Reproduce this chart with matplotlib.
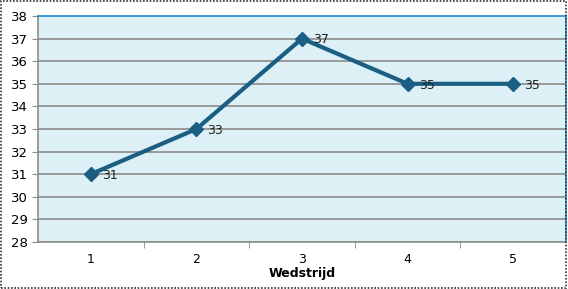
import matplotlib
matplotlib.use('Agg')
import matplotlib.pyplot as plt
from matplotlib.patches import Rectangle

# Daten
wedstrijden = [1, 2, 3, 4, 5]
waarden = [31, 33, 37, 35, 35]
y_ticks = list(range(28, 39))

lijn_kleur = '#1b5e84'

fig = plt.figure(figsize=(5.68, 2.89), dpi=100)
ax = fig.add_axes([38 / 568, 1 - 242 / 289, 528 / 568, 226 / 289])
ax.set_facecolor('#ddf0f6')

# Rasterlijnen
for y in y_ticks[:-1]:
    ax.axhline(y, color='#929292', linewidth=1.3, zorder=1)

ax.plot(wedstrijden, waarden, color=lijn_kleur, linewidth=3, marker='D',
        markersize=7, zorder=3)

# Datalabels
for x, y in zip(wedstrijden, waarden):
    ax.annotate(str(y), (x, y), xytext=(8, -1), textcoords='offset points',
                ha='left', va='center', fontsize=9, color='#222222')

ax.set_xlim(0.5, 5.5)
ax.set_ylim(28, 38)
ax.set_yticks(y_ticks)
ax.set_xticks(wedstrijden)
ax.set_xticks([1.5, 2.5, 3.5, 4.5], minor=True)
ax.tick_params(axis='x', which='major', length=0, pad=8, labelsize=9)
ax.tick_params(axis='x', which='minor', length=4, color='#8c8c8c', direction='out')
ax.tick_params(axis='y', length=4, color='#8c8c8c', labelsize=9.5, pad=3)
ax.set_xlabel('Wedstrijd', fontsize=9, fontweight='bold', labelpad=1)

ax.spines['left'].set_color('#8c8c8c')
ax.spines['bottom'].set_color('#8c8c8c')
ax.spines['top'].set_color('#1f8ad0')
ax.spines['right'].set_color('#1f8ad0')
for s in ax.spines.values():
    s.set_linewidth(1.2)

# Rand om de grafiek
fig.patches.append(Rectangle((0.002, 0.002), 0.995, 0.994, transform=fig.transFigure,
                             fill=False, edgecolor='#333333', linewidth=1.2,
                             linestyle=(0, (1, 1))))

plt.savefig('out.png', dpi=100)
